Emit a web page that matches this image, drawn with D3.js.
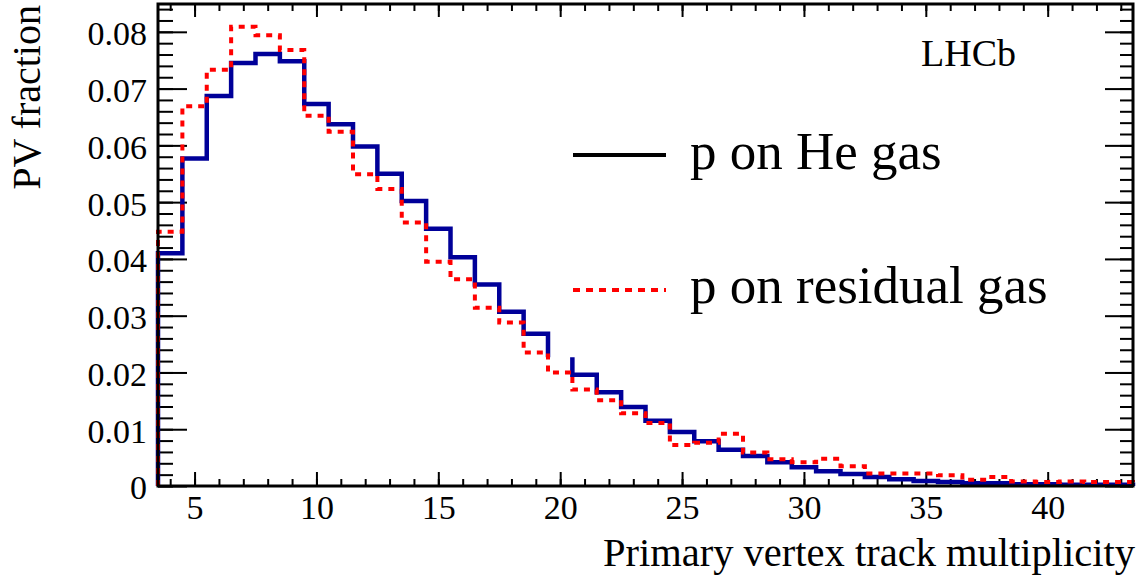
<!DOCTYPE html>
<html>
<head>
<meta charset="utf-8">
<script src="https://cdn.jsdelivr.net/npm/d3@7"></script>
<style>
  html, body { margin: 0; padding: 0; background: #ffffff; }
  svg { display: block; }
  text { font-family: "Liberation Serif", "DejaVu Serif", serif; fill: #000; }
</style>
</head>
<body>
<svg id="chart" width="1143" height="581"></svg>
<script>
// ---- data (bin centres = track multiplicity, bin width 1) ----
const bins = d3.range(4, 44); // 4 .. 43
const heGas = [
  0.0410, 0.0577, 0.0687, 0.0745, 0.0761, 0.0748, 0.0673, 0.0637, 0.0598, 0.0550,
  0.0502, 0.0453, 0.0403, 0.0355, 0.0307, 0.0268, 0.0227, 0.0196, 0.0165, 0.0139,
  0.0115, 0.0095, 0.0079, 0.0064, 0.0053, 0.0042, 0.0033, 0.0026, 0.0021, 0.0016,
  0.0012, 0.0009, 0.0007, 0.0005, 0.0005, 0.0003, 0.0003, 0.0002, 0.0002, 0.0002
];
const residualGas = [
  0.0448, 0.0669, 0.0733, 0.0809, 0.0794, 0.0768, 0.0652, 0.0624, 0.0549, 0.0523,
  0.0464, 0.0395, 0.0364, 0.0314, 0.0288, 0.0235, 0.0200, 0.0170, 0.0151, 0.0128,
  0.0111, 0.0072, 0.0076, 0.0092, 0.0059, 0.0047, 0.0042, 0.0048, 0.0035, 0.0022,
  0.0022, 0.0022, 0.0019, 0.0011, 0.0016, 0.0008, 0.0007, 0.0008, 0.0007, 0.0007
];
const heGasMissingBins = [20]; // horizontal segment not visible in the original
const xMajorTicks = [5, 10, 15, 20, 25, 30, 35, 40];
const xMinorTicks = d3.range(4, 44);
const yMajorTicks = [0, 0.01, 0.02, 0.03, 0.04, 0.05, 0.06, 0.07, 0.08];
const yMinorTicks = d3.range(0, 0.0849, 0.002);
const yTickLabels = ["0", "0.01", "0.02", "0.03", "0.04", "0.05", "0.06", "0.07", "0.08"];
const seriesNames = ["p on He gas", "p on residual gas"];

// ---- layout ----
const L = 158, R = 1133, T = 4, B = 486;
const svg = d3.select("#chart");
const x = d3.scaleLinear().domain([3.5, 43.5]).range([L, R]);
const y = d3.scaleLinear().domain([0, 0.0849]).range([B, T]);

// ---- axes (ticks inward, ROOT style) ----
function styleAxis(g) {
  g.select(".domain").remove();
  g.selectAll(".tick line").attr("stroke", "#000").attr("stroke-width", 2);
  g.selectAll("text").attr("font-family", "Liberation Serif").attr("font-size", 34).attr("fill", "#000");
}
// bottom
svg.append("g").attr("transform", `translate(0,${B})`)
  .call(d3.axisBottom(x).tickValues(xMinorTicks).tickSize(-7).tickFormat(""))
  .call(styleAxis);
svg.append("g").attr("transform", `translate(0,${B})`)
  .call(d3.axisBottom(x).tickValues(xMajorTicks).tickSize(-14).tickPadding(9).tickFormat(d3.format("d")))
  .call(styleAxis);
// top
svg.append("g").attr("transform", `translate(0,${T})`)
  .call(d3.axisTop(x).tickValues(xMinorTicks).tickSize(-7).tickFormat(""))
  .call(styleAxis);
svg.append("g").attr("transform", `translate(0,${T})`)
  .call(d3.axisTop(x).tickValues(xMajorTicks).tickSize(-13).tickFormat(""))
  .call(styleAxis);
// left
svg.append("g").attr("transform", `translate(${L},0)`)
  .call(d3.axisLeft(y).tickValues(yMinorTicks).tickSize(-15).tickFormat(""))
  .call(styleAxis);
const yAx = svg.append("g").attr("transform", `translate(${L},0)`)
  .call(d3.axisLeft(y).tickValues(yMajorTicks).tickSize(-29).tickPadding(11)
        .tickFormat((d, i) => yTickLabels[i]))
  .call(styleAxis);
yAx.selectAll("text").attr("dy", "0.38em");
// right
svg.append("g").attr("transform", `translate(${R},0)`)
  .call(d3.axisRight(y).tickValues(yMinorTicks).tickSize(-13).tickFormat(""))
  .call(styleAxis);
svg.append("g").attr("transform", `translate(${R},0)`)
  .call(d3.axisRight(y).tickValues(yMajorTicks).tickSize(-28).tickFormat(""))
  .call(styleAxis);

// ---- histogram outlines ----
function stepPath(vals, missing) {
  const p = d3.path();
  bins.forEach((b, i) => {
    const lo = x(b - 0.5), hi = x(b + 0.5), yy = y(vals[i]);
    if (i === 0) { p.moveTo(lo, y(0)); }
    p.lineTo(lo, yy);
    if (missing && missing.includes(b)) p.moveTo(hi, yy); else p.lineTo(hi, yy);
  });
  p.lineTo(x(bins[bins.length - 1] + 0.5), y(0));
  return p.toString();
}

svg.append("path")
  .attr("d", stepPath(heGas, heGasMissingBins))
  .attr("fill", "none").attr("stroke", "#000099").attr("stroke-width", 4.5)
  .attr("stroke-linejoin", "miter").attr("stroke-linecap", "butt");

svg.append("path")
  .attr("d", stepPath(residualGas, null))
  .attr("fill", "none").attr("stroke", "#ff0000").attr("stroke-width", 4)
  .attr("stroke-dasharray", "6 6").attr("stroke-linecap", "butt");

// ---- frame ----
svg.append("rect").attr("x", L).attr("y", T).attr("width", R - L).attr("height", B - T)
  .attr("fill", "none").attr("stroke", "#000").attr("stroke-width", 3);

// ---- axis titles ----
svg.append("text").attr("x", 1135).attr("y", 566).attr("text-anchor", "end")
  .attr("font-size", 40.5).text("Primary vertex track multiplicity");
svg.append("text").attr("transform", "translate(40,5) rotate(-90)").attr("text-anchor", "end")
  .attr("font-size", 40).text("PV fraction");

// ---- LHCb label ----
svg.append("text").attr("x", 921).attr("y", 66).attr("font-size", 38).text("LHCb");

// ---- legend ----
const legend = svg.append("g");
legend.append("line").attr("x1", 573).attr("x2", 666).attr("y1", 155).attr("y2", 155)
  .attr("stroke", "#000").attr("stroke-width", 4);
legend.append("text").attr("x", 690).attr("y", 169).attr("font-size", 53).text(seriesNames[0]);
legend.append("line").attr("x1", 573).attr("x2", 666).attr("y1", 290).attr("y2", 290)
  .attr("stroke", "#ff0000").attr("stroke-width", 4).attr("stroke-dasharray", "7 6");
legend.append("text").attr("x", 690).attr("y", 303).attr("font-size", 53).text(seriesNames[1]);
</script>
</body>
</html>
